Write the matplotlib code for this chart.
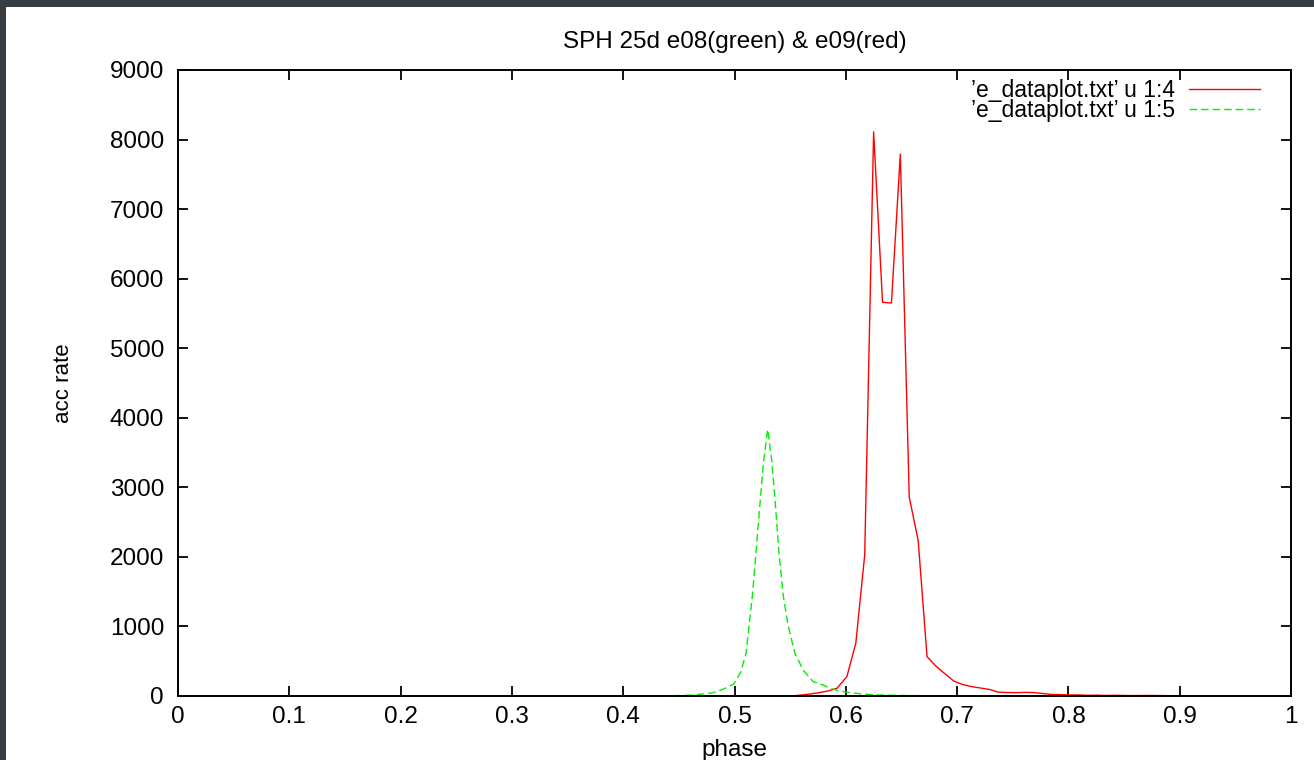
import matplotlib
matplotlib.use("Agg")
import matplotlib.pyplot as plt
from matplotlib.patches import Rectangle

plt.rcParams['font.family'] = ['Liberation Sans', 'DejaVu Sans']

# column 4 (red, e09)
phase_red = [0.0, 0.552, 0.560, 0.568, 0.576, 0.584, 0.592, 0.601, 0.609, 0.617,
             0.625, 0.633, 0.641, 0.649, 0.657, 0.665, 0.673, 0.681, 0.689, 0.697,
             0.705, 0.713, 0.721, 0.729, 0.737, 0.745, 0.753, 0.761, 0.769, 0.777,
             0.785, 0.793, 0.801, 0.809, 0.817, 0.825, 0.833, 0.841, 0.857, 0.873,
             0.889, 0.905, 0.93, 1.0]
rate_red = [0, 0, 14, 29, 48, 72, 110, 280, 760, 2030,
            8110, 5660, 5650, 7790, 2860, 2240, 565, 430, 320, 215,
            165, 135, 115, 95, 55, 50, 48, 52, 50, 35,
            22, 20, 15, 15, 10, 12, 8, 10, 6, 8,
            5, 4, 0, 0]

# column 5 (green, e08)
phase_green = [0.0, 0.43, 0.44, 0.45, 0.46, 0.47, 0.48, 0.487, 0.493, 0.4995,
               0.5055, 0.5103, 0.516, 0.5223, 0.5259, 0.5298, 0.5334, 0.5364, 0.540, 0.5439,
               0.5483, 0.5544, 0.5618, 0.568, 0.5708, 0.5795, 0.586, 0.595, 0.604, 0.615,
               0.631, 0.65, 0.67, 0.70, 1.0]
rate_green = [0, 0, 3, 6, 12, 25, 45, 80, 120, 175,
              340, 610, 1430, 2650, 3340, 3832, 3390, 2820, 2050, 1430,
              1000, 610, 370, 255, 205, 160, 110, 70, 48, 28,
              14, 8, 4, 0, 0]

xticks = [0, 0.1, 0.2, 0.3, 0.4, 0.5, 0.6, 0.7, 0.8, 0.9, 1]
xticklabels = ['0', '0.1', '0.2', '0.3', '0.4', '0.5', '0.6', '0.7', '0.8', '0.9', '1']
yticks = [0, 1000, 2000, 3000, 4000, 5000, 6000, 7000, 8000, 9000]

fig = plt.figure(figsize=(13.14, 7.6), dpi=100)
fig.patch.set_facecolor('#373e43')
# white page inside the dark screenshot border
page = Rectangle((6 / 1314, 0), 1.0, 1 - 7 / 760, transform=fig.transFigure,
                 facecolor='white', edgecolor='none', zorder=-10)
fig.add_artist(page)

ax = fig.add_axes([178 / 1314, 1 - 696 / 760, (1291 - 178) / 1314, (696 - 70) / 760])
ax.set_facecolor('none')

ax.plot(phase_red, rate_red, color='#ff0000', lw=1.0, label='’e_dataplot.txt’ u 1:4')
ax.plot(phase_green, rate_green, color='#00f000', lw=1.0, dashes=(5.5, 2.8),
        label='’e_dataplot.txt’ u 1:5')

ax.set_xlim(0, 1)
ax.set_ylim(0, 9000)
ax.set_xticks(xticks)
ax.set_xticklabels(xticklabels)
ax.set_yticks(yticks)
ax.tick_params(direction='in', length=7, width=1.3, labelsize=17.5, top=True, right=True)
ax.tick_params(axis='y', pad=10)
ax.tick_params(axis='x', pad=7)
for s in ax.spines.values():
    s.set_linewidth(1.4)

ax.set_title('SPH 25d e08(green) & e09(red)', fontsize=17.5, pad=16)
ax.set_xlabel('phase', fontsize=17.5, labelpad=8)
ax.set_ylabel('acc rate', fontsize=16, labelpad=26)

leg = ax.legend(loc='upper right', bbox_to_anchor=(0.976, 0.9935), frameon=False,
                markerfirst=False, fontsize=16.5, handlelength=3.1, handletextpad=0.6,
                labelspacing=-0.1, borderaxespad=0.0, borderpad=0.2)

fig.savefig('out.png', dpi=100, facecolor=fig.get_facecolor())
